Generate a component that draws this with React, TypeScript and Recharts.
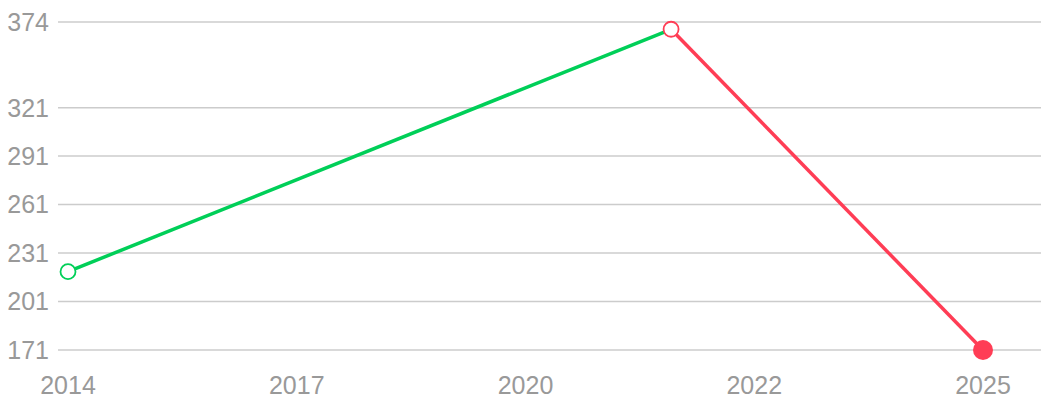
import React from 'react';
import { LineChart, Line, XAxis, YAxis, CartesianGrid } from 'recharts';

const years = [2014, 2021.25, 2025];
const risingValues = [219.5, 369.5, null];
const fallingValues = [null, 369.5, 171];
const yTicks = [171, 201, 231, 261, 291, 321, 374];
const xTicks = [2014, 2016.75, 2019.5, 2022.25, 2025];
const xTickLabels = ['2014', '2017', '2020', '2022', '2025'];

const GREEN = '#00cf58';
const RED = '#ff3d55';
const TEXT = '#999999';

const data = years.map((year, i) => ({
  year,
  up: risingValues[i],
  down: fallingValues[i],
}));

const GreenDot = (props: any) => {
  const { cx, cy, index, value } = props;
  if (value == null || index !== 0) return <g key={`g${index}`} />;
  return <circle key={`g${index}`} cx={cx} cy={cy} r={7.5} fill="#fff" stroke={GREEN} strokeWidth={1.8} />;
};

const RedDot = (props: any) => {
  const { cx, cy, index, value } = props;
  if (value == null) return <g key={`r${index}`} />;
  if (index === data.length - 1) {
    return <circle key={`r${index}`} cx={cx} cy={cy} r={10} fill={RED} stroke="none" />;
  }
  return <circle key={`r${index}`} cx={cx} cy={cy} r={7.5} fill="#fff" stroke={RED} strokeWidth={1.8} />;
};

export default function App() {
  return (
    <div style={{ position: 'absolute', left: 0, top: 0, width: 1041, height: 400, background: '#fff' }}>
      <LineChart
        width={1041}
        height={400}
        data={data}
        margin={{ top: 22, right: 0, bottom: 0, left: 0 }}
      >
        <CartesianGrid vertical={false} stroke="#cccccc" strokeWidth={1.5} />
        <XAxis
          dataKey="year"
          type="number"
          domain={[2014, 2025]}
          ticks={xTicks}
          tickFormatter={(v: number) => xTickLabels[xTicks.indexOf(v)] ?? String(Math.round(v))}
          padding={{ left: 10, right: 58 }}
          axisLine={false}
          tickLine={false}
          tickSize={0}
          tickMargin={26}
          height={50}
          interval={0}
          tick={{ fill: TEXT, fontSize: 25, fontFamily: 'Liberation Sans, Arial, sans-serif' }}
        />
        <YAxis
          domain={[171, 374]}
          ticks={yTicks}
          width={58}
          axisLine={false}
          tickLine={false}
          tickSize={0}
          tickMargin={9}
          interval={0}
          tick={{ fill: TEXT, fontSize: 25, fontFamily: 'Liberation Sans, Arial, sans-serif' }}
        />
        <Line
          dataKey="up"
          stroke={GREEN}
          strokeWidth={3.5}
          dot={GreenDot}
          activeDot={false}
          connectNulls={false}
          isAnimationActive={false}
        />
        <Line
          dataKey="down"
          stroke={RED}
          strokeWidth={3.5}
          dot={RedDot}
          activeDot={false}
          connectNulls={false}
          isAnimationActive={false}
        />
      </LineChart>
    </div>
  );
}
